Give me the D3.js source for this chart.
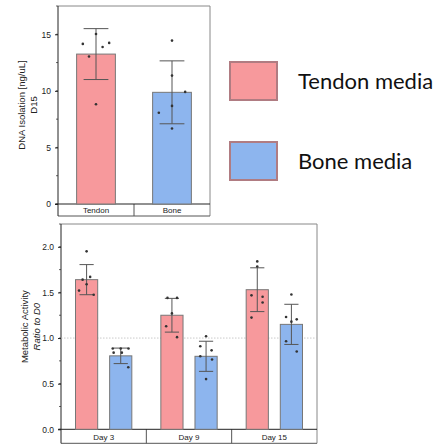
<!DOCTYPE html>
<html>
<head>
<meta charset="utf-8">
<script src="https://cdn.jsdelivr.net/npm/d3@7"></script>
<style>
  body { margin: 0; background: #fff; }
  svg { display: block; }
</style>
</head>
<body>
<div id="chart"></div>
<script>
// DNA isolation at D15
var dnaCategories = ["Tendon", "Bone"];
var dnaMeans = [13.25, 9.87];
var dnaSD = [2.25, 2.78];
var dnaPoints = [[14.15, 15.03, 13.03, 13.88, 14.24, 8.82], [14.44, 11.35, 9.91, 8.67, 8.06, 6.67]];
var dnaJitter = [[-0.34, 0, -0.18, 0.17, 0.34, 0], [0, 0, 0.34, 0, -0.34, 0]];
var dnaTicks = [0, 5, 10, 15];

// metabolic activity, ratio to D0
var days = ["Day 3", "Day 9", "Day 15"];
var tendonMeans = [1.64, 1.25, 1.53];
var tendonSD = [0.165, 0.185, 0.24];
var boneMeans = [0.805, 0.80, 1.15];
var boneSD = [0.085, 0.165, 0.22];
var tendonPoints = [[1.95, 1.64, 1.67, 1.59, 1.52, 1.475], [1.44, 1.44, 1.27, 1.13, 1.01], [1.84, 1.785, 1.468, 1.453, 1.39, 1.224]];
var tendonJitter = [[0, -0.18, 0.16, 0, -0.34, 0.32], [-0.2, 0.23, 0, -0.26, 0.23], [0, 0, -0.26, 0.24, 0.24, -0.26]];
var bonePoints = [[0.885, 0.885, 0.885, 0.84, 0.84, 0.68], [1.02, 0.91, 0.865, 0.80, 0.765, 0.55], [1.478, 1.23, 1.205, 1.18, 0.965, 0.852]];
var boneJitter = [[-0.36, 0, 0.35, -0.32, 0.05, 0.34], [0, -0.26, 0.25, -0.26, 0.27, 0], [0, -0.24, 0.24, 0, -0.24, 0.24]];
var metTicks = [0, 0.5, 1.0, 1.5, 2.0];

var legendLabels = ["Tendon media", "Bone media"];

var red = "#f7999c", blue = "#8db5ee";
var font = "'Liberation Sans', Arial, sans-serif";

var svg = d3.select("#chart").append("svg")
    .attr("width", 440)
    .attr("height", 448);

// draws frame, y axis and category strip; returns scales
function drawFrame(g, x0, x1, y0, y1, strip, domain, ticks, minorStep, fmt, cats, labels) {
    var y = d3.scaleLinear().domain(domain).range([y1, y0]);
    var bands = d3.scaleBand().domain(cats).range([x0, x1]);

    // top/right frame
    g.append("path")
        .attr("d", "M" + x0 + "," + y0 + "H" + x1 + "V" + (y1 + strip))
        .attr("fill", "none").attr("stroke", "#888").attr("stroke-width", 1);

    // category strip
    g.append("line").attr("x1", x0).attr("x2", x1).attr("y1", y1 + strip).attr("y2", y1 + strip)
        .attr("stroke", "#555");
    cats.slice(1).forEach(function(c){
        g.append("line").attr("x1", bands(c)).attr("x2", bands(c))
            .attr("y1", y1).attr("y2", y1 + strip).attr("stroke", "#555");
    });
    g.selectAll("text.cat").data(cats).enter().append("text")
        .attr("x", function(d){ return bands(d) + bands.bandwidth() / 2; })
        .attr("y", y1 + strip - 3.5)
        .attr("text-anchor", "middle")
        .attr("font-family", font).attr("font-size", "8px").attr("fill", "#222")
        .text(function(d){ return d; });

    // minor ticks
    var minor = d3.range(domain[0], domain[1] + 1e-9, minorStep);
    g.selectAll("line.minor").data(minor).enter().append("line")
        .attr("x1", x0 - 2).attr("x2", x0)
        .attr("y1", function(d){ return y(d); }).attr("y2", function(d){ return y(d); })
        .attr("stroke", "#222").attr("stroke-width", 0.7);

    // y axis
    var axis = g.append("g").attr("transform", "translate(" + x0 + ",0)")
        .call(d3.axisLeft(y).tickValues(ticks).tickFormat(fmt).tickSize(3).tickPadding(4));
    axis.select(".domain").remove();
    axis.selectAll("line").attr("stroke", "#222");
    axis.selectAll("text").attr("font-family", font).attr("font-size", "8.5px").attr("fill", "#222");

    g.append("line").attr("x1", x0).attr("x2", x0).attr("y1", y0).attr("y2", y1 + strip)
        .attr("stroke", "#222");
    g.append("line").attr("x1", x0 - 3).attr("x2", x1).attr("y1", y1).attr("y2", y1)
        .attr("stroke", "#222");

    // axis title
    var t = g.append("text")
        .attr("transform", "translate(" + (x0 - 33) + "," + ((y0 + y1) / 2) + ") rotate(-90)")
        .attr("text-anchor", "middle")
        .attr("font-family", font).attr("font-size", "9.5px").attr("fill", "#222");
    t.append("tspan").attr("x", 0).attr("dy", 0).text(labels[0]);
    var t2 = t.append("tspan").attr("x", 0).attr("dy", 11.5);
    labels[1].forEach(function(p){
        t2.append("tspan").attr("font-style", p.italic ? "italic" : null).text(p.text);
    });

    return {y: y, bands: bands};
}

function drawBar(g, cx, w, y, mean, sd, pts, jit, color) {
    g.append("rect")
        .attr("x", cx - w / 2).attr("y", y(mean))
        .attr("width", w).attr("height", y(0) - y(mean))
        .attr("fill", color).attr("stroke", "#777").attr("stroke-width", 1);
    var cap = w * 0.32;
    g.append("path")
        .attr("d", "M" + cx + "," + y(mean - sd) + "V" + y(mean + sd) +
            "M" + (cx - cap) + "," + y(mean + sd) + "H" + (cx + cap) +
            "M" + (cx - cap) + "," + y(mean - sd) + "H" + (cx + cap))
        .attr("fill", "none").attr("stroke", "#555").attr("stroke-width", 1);
    g.selectAll(null).data(pts).enter().append("circle")
        .attr("cx", function(d, i){ return cx + jit[i] * w; })
        .attr("cy", function(d){ return y(d); })
        .attr("r", 1.3).attr("fill", "#333");
}

// TOP PANEL
var topPanel = svg.append("g");
var s1 = drawFrame(topPanel, 58, 210, 6, 204, 12, [0, 17.5], dnaTicks, 2.5, d3.format("d"),
    dnaCategories, ["DNA Isolation [ng/uL]", [{text: "D15"}]]);
var colors1 = [red, blue];
dnaCategories.forEach(function(c, i){
    var cx = s1.bands(c) + s1.bands.bandwidth() / 2;
    drawBar(topPanel, cx, s1.bands.bandwidth() * 0.51, s1.y, dnaMeans[i], dnaSD[i], dnaPoints[i], dnaJitter[i], colors1[i]);
});

// BOTTOM PANEL
var botPanel = svg.append("g");
var s2 = drawFrame(botPanel, 61, 317, 224, 429.3, 14, [0, 2.25], metTicks, 0.25, d3.format(".1f"),
    days, ["Metabolic Activity", [{text: "Ratio to D0", italic: true}]]);
botPanel.append("line")
    .attr("x1", 61).attr("x2", 317).attr("y1", s2.y(1)).attr("y2", s2.y(1))
    .attr("stroke", "#bbb").attr("stroke-width", 0.8).attr("stroke-dasharray", "1.5,1.5");
days.forEach(function(d, i){
    var bw = s2.bands.bandwidth();
    var cx = s2.bands(d) + bw / 2;
    drawBar(botPanel, cx - bw * 0.2, bw * 0.26, s2.y, tendonMeans[i], tendonSD[i], tendonPoints[i], tendonJitter[i], red);
    drawBar(botPanel, cx + bw * 0.2, bw * 0.26, s2.y, boneMeans[i], boneSD[i], bonePoints[i], boneJitter[i], blue);
});

// LEGEND
var leg = svg.append("g");
legendLabels.forEach(function(l, i){
    var yy = 62 + i * 80;
    leg.append("rect").attr("x", 230).attr("y", yy).attr("width", 47).attr("height", 38)
        .attr("fill", i === 0 ? red : blue).attr("stroke", "#b07c82").attr("stroke-width", 2);
    leg.append("text").attr("x", 298).attr("y", yy + 27)
        .attr("font-family", "Lato, 'Open Sans', sans-serif").attr("font-size", "22px").attr("fill", "#111")
        .text(l);
});
</script>
</body>
</html>
